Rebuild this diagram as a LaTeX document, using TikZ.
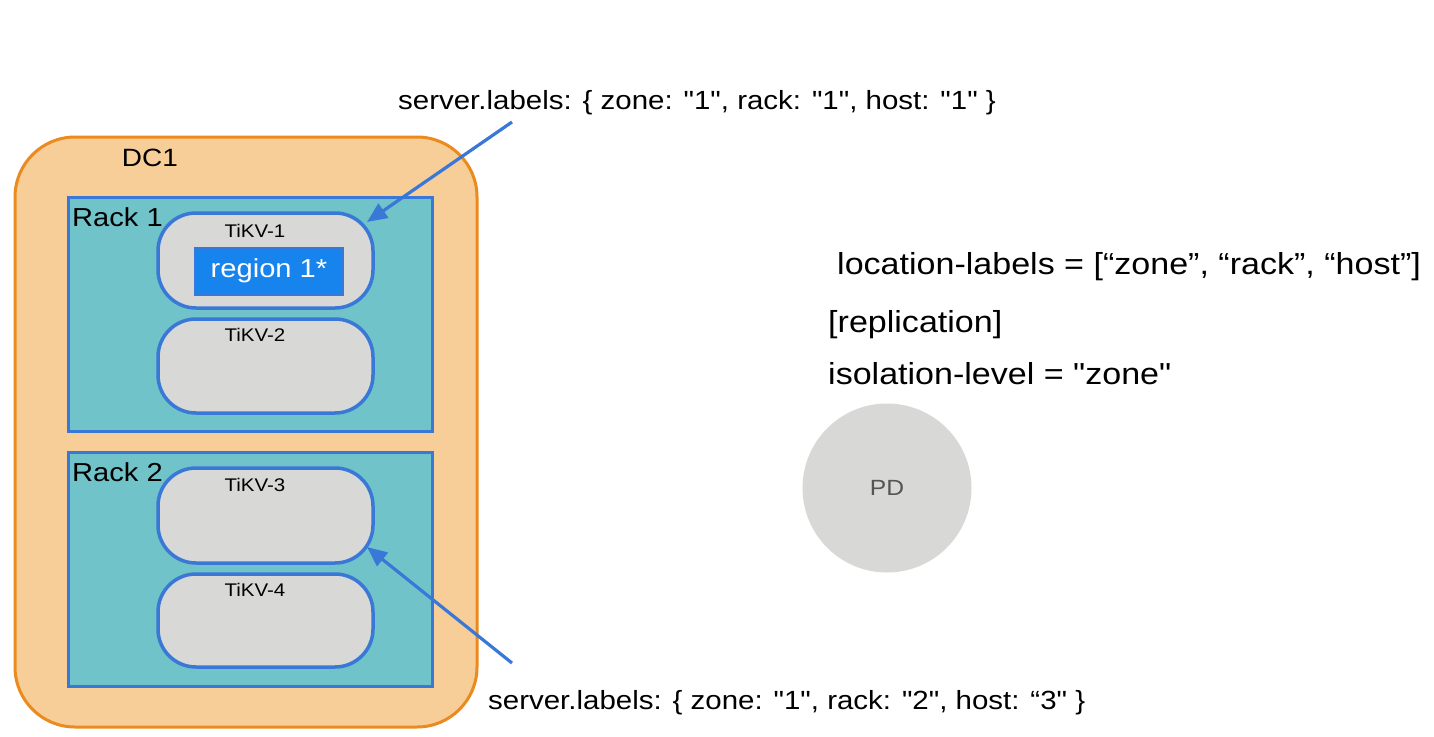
\documentclass[tikz,border=0pt]{standalone}
\usepackage{fontspec}
\setmainfont{Liberation Sans}[FakeStretch=1.12, Ligatures=TeXOff]
\usetikzlibrary{arrows.meta}
\definecolor{dcfill}{HTML}{F8CE98}
\definecolor{dcline}{HTML}{EB8A1E}
\definecolor{rackfill}{HTML}{6FC3C9}
\definecolor{bline}{HTML}{3A78D8}
\definecolor{gfill}{HTML}{D8D8D7}
\definecolor{regfill}{HTML}{1784EE}
\definecolor{pdtext}{HTML}{555555}
\tikzset{
  dcbox/.style={draw=dcline, fill=dcfill, line width=3pt, rounded corners=60pt},
  rackbox/.style={draw=bline, fill=rackfill, line width=3pt},
  tikvbox/.style={draw=bline, fill=gfill, line width=3.5pt, rounded corners=38pt},
  regbox/.style={draw=bline, fill=regfill, line width=2pt},
  lbl/.style={font=\fontsize{26.3}{30}\selectfont, inner sep=0pt},
  rtxt/.style={font=\fontsize{30.4}{34}\selectfont, inner sep=0pt},
  rack/.style={font=\fontsize{26}{30}\selectfont, inner sep=0pt},
  small/.style={font=\fontsize{18.3}{21}\selectfont, inner sep=0pt},
  arr/.style={draw=bline, line width=3.2pt, -{Triangle[length=20pt,width=17pt]}},
}
\begin{document}
\begin{tikzpicture}[x=1pt,y=-1pt]
\useasboundingbox[fill=white] (0,0) rectangle (1434,736);
% DC1
\draw[dcbox] (15,137) rectangle (477,727);
\node[font=\fontsize{25}{29}\selectfont, inner sep=0pt] (dclabel) at (150,158) {DC1};
% racks
\draw[rackbox] (68,197) rectangle (432,431);
\node[rack, anchor=west] (rack1) at (72,217) {Rack 1};
\draw[rackbox] (68,452) rectangle (432,686);
\node[rack, anchor=west] (rack2) at (72,472) {Rack 2};
% tikv boxes
\node[tikvbox, minimum width=215pt, minimum height=95pt, inner sep=0pt] (t1) at (265.5,260.5) {};
\node[small] at (255,231) {TiKV-1};
\node[regbox, minimum width=148pt, minimum height=47pt, inner sep=0pt, text=white, font=\fontsize{26}{30}\selectfont] (reg) at (269,271) {region 1*};
\node[tikvbox, minimum width=215pt, minimum height=94pt, inner sep=0pt] (t2) at (265.5,366) {};
\node[small] at (255,335) {TiKV-2};
\node[tikvbox, minimum width=215pt, minimum height=95pt, inner sep=0pt] (t3) at (265.5,515.5) {};
\node[small] at (255,485) {TiKV-3};
\node[tikvbox, minimum width=215pt, minimum height=93pt, inner sep=0pt] (t4) at (265.5,620.5) {};
\node[small] at (255,590) {TiKV-4};
% PD
\node[circle, fill=gfill, minimum size=169pt, inner sep=0pt, text=pdtext, font=\fontsize{22}{26}\selectfont] (pd) at (887,488) {PD};
% texts
\node[lbl, anchor=west] (lab1) at (398,103) {server.labels: \{ zone: "1", rack: "1", host: "1" \}};
\node[lbl, anchor=west] (lab2) at (488,703) {server.labels: \{ zone: "1", rack: "2", host: “3" \}};
\node[rtxt, anchor=west] (loc) at (837,267) {location-labels = [“zone”, “rack”, “host”]};
\node[rtxt, anchor=west] (repl) at (828,325) {[replication]};
\node[rtxt, anchor=west] (iso) at (828,374) {isolation-level = "zone"};
% arrows
\coordinate (a1s) at (512,122);
\coordinate (a1e) at (367,222);
\coordinate (a2s) at (512,663);
\coordinate (a2e) at (367,547);
\draw[arr] (a1s) -- (a1e);
\draw[arr] (a2s) -- (a2e);
\end{tikzpicture}
\end{document}
